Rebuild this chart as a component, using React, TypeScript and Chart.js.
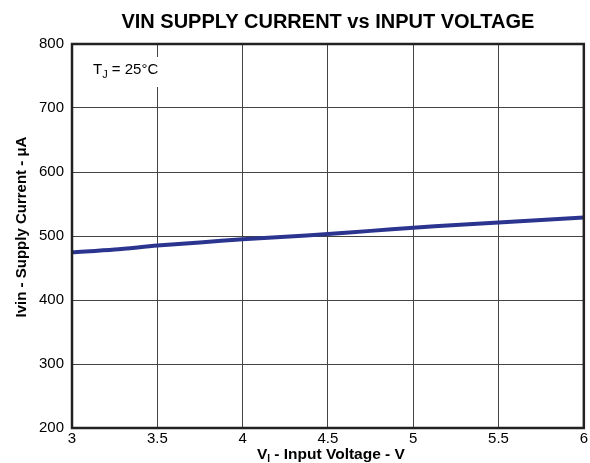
import React, { useEffect, useRef } from "react";
import { Chart, registerables } from "chart.js";

Chart.register(...registerables);

const TITLE = "VIN SUPPLY CURRENT vs INPUT VOLTAGE";
const Y_TITLE = "Ivin - Supply Current - \u03bcA";
const voltage = [3, 3.25, 3.5, 3.75, 4, 4.25, 4.5, 4.75, 5, 5.25, 5.5, 5.75, 6];
const current = [474.5, 479, 485, 490, 495, 499, 503, 508, 513, 517, 521, 525, 529];
const xTicks = [3, 3.5, 4, 4.5, 5, 5.5, 6];
const yTicks = [200, 300, 400, 500, 600, 700, 800];

const FONT = "'Liberation Sans', Arial, Helvetica, sans-serif";

const overlay = {
  id: "overlay",
  afterDraw(chart: any) {
    const { ctx, chartArea } = chart;
    const { left, right, top, bottom } = chartArea;
    ctx.save();
    // border
    ctx.strokeStyle = "#222";
    ctx.lineWidth = 2.5;
    ctx.strokeRect(left, top, right - left, bottom - top);
    // title
    ctx.fillStyle = "#000";
    ctx.font = `bold 20px ${FONT}`;
    ctx.textAlign = "center";
    ctx.textBaseline = "alphabetic";
    ctx.fillText(TITLE, (left + right) / 2, 28);
    // y title
    ctx.save();
    ctx.translate(26, (top + bottom) / 2 - 9);
    ctx.rotate(-Math.PI / 2);
    ctx.font = `bold 15px ${FONT}`;
    ctx.textAlign = "center";
    ctx.fillText(Y_TITLE, 0, 0);
    ctx.restore();
    // x title with subscript
    const cx = (left + right) / 2 + 3;
    const yb = 459;
    const p1 = "V";
    const sub = "I";
    const p2 = " - Input Voltage - V";
    ctx.font = `bold 15.5px ${FONT}`;
    const w1 = ctx.measureText(p1).width;
    const w3 = ctx.measureText(p2).width;
    ctx.font = `bold 10px ${FONT}`;
    const w2 = ctx.measureText(sub).width;
    const x0 = cx - (w1 + w2 + w3) / 2;
    ctx.textAlign = "left";
    ctx.font = `bold 15.5px ${FONT}`;
    ctx.fillText(p1, x0, yb);
    ctx.font = `bold 10px ${FONT}`;
    ctx.fillText(sub, x0 + w1, yb + 3);
    ctx.font = `bold 15.5px ${FONT}`;
    ctx.fillText(p2, x0 + w1 + w2, yb);
    // annotation T_J = 25°C
    ctx.font = `15px ${FONT}`;
    const a1 = "T";
    const a3 = " = 25\u00b0C";
    const aw1 = ctx.measureText(a1).width;
    const aw3 = ctx.measureText(a3).width;
    ctx.font = `11px ${FONT}`;
    const aw2 = ctx.measureText("J").width;
    const ax = 93;
    const ay = 74;
    ctx.fillStyle = "#fff";
    ctx.fillRect(ax - 3, 57, aw1 + aw2 + aw3 + 8, 30);
    ctx.fillStyle = "#000";
    ctx.font = `15px ${FONT}`;
    ctx.fillText(a1, ax, ay);
    ctx.font = `11px ${FONT}`;
    ctx.fillText("J", ax + aw1, ay + 4);
    ctx.font = `15px ${FONT}`;
    ctx.fillText(a3, ax + aw1 + aw2, ay);
    ctx.restore();
  },
};

export default function App() {
  const ref = useRef<HTMLCanvasElement>(null);
  useEffect(() => {
    document.body.style.margin = "0";
    const chart = new Chart(ref.current!, {
      type: "line",
      data: {
        datasets: [
          {
            data: voltage.map((v, i) => ({ x: v, y: current[i] })),
            borderColor: "#2b3590",
            borderWidth: 4,
            pointRadius: 0,
            tension: 0.3,
            fill: false,
          },
        ],
      },
      options: {
        responsive: false,
        animation: false,
        layout: { padding: { top: 44, right: 5, left: 0, bottom: 0 } },
        plugins: { legend: { display: false }, title: { display: false }, tooltip: { enabled: false } },
        scales: {
          x: {
            type: "linear",
            min: 3,
            max: 6,
            afterBuildTicks: (s: any) => {
              s.ticks = xTicks.map((v) => ({ value: v }));
            },
            afterFit: (s: any) => {
              s.height = 35;
            },
            grid: { color: "#444", lineWidth: 1, drawTicks: false },
            border: { display: false },
            ticks: {
              color: "#000",
              font: { family: FONT, size: 15 },
              padding: 2,
              maxRotation: 0,
              autoSkip: false,
              callback: (v: any) => String(v),
            },
          },
          y: {
            type: "linear",
            min: 200,
            max: 800,
            afterBuildTicks: (s: any) => {
              s.ticks = yTicks.map((v) => ({ value: v }));
            },
            afterFit: (s: any) => {
              s.width = 72;
            },
            grid: { color: "#444", lineWidth: 1, drawTicks: false },
            border: { display: false },
            ticks: {
              color: "#000",
              font: { family: FONT, size: 15 },
              padding: 8,
              autoSkip: false,
            },
          },
        },
      },
      plugins: [overlay],
    });
    return () => chart.destroy();
  }, []);
  return (
    <div style={{ width: 590, height: 463, background: "#fff" }}>
      <canvas ref={ref} width={590} height={463} style={{ display: "block" }} />
    </div>
  );
}
